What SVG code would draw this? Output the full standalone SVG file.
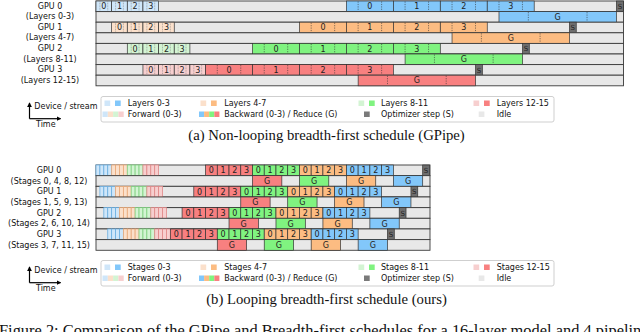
<svg xmlns="http://www.w3.org/2000/svg" width="640" height="332" viewBox="0 0 640 332">
<style>
.row{fill:#e8e8e8;stroke:#3a3a3a;stroke-width:0.9}
.blk{stroke:#333;stroke-width:0.7}
.c0{fill:#82c7fa}.c1{fill:#fcbc82}.c2{fill:#80f380}.c3{fill:#f88080}
.p0{fill:#cfe6f9}.p1{fill:#fbe0cb}.p2{fill:#d3f4d3}.p3{fill:#f7cfcf}
.q0{fill:#cfe6f9;stroke:#6aaee0;stroke-width:0.8}.q1{fill:#fbe0cb;stroke:#e8a878;stroke-width:0.8}.q2{fill:#d3f4d3;stroke:#7fd07f;stroke-width:0.8}.q3{fill:#f7cfcf;stroke:#e08888;stroke-width:0.8}
.sx{fill:#6e6e6e;stroke:#333;stroke-width:0.7}
.idle{fill:#e8e8e8}
.dl{stroke:#333;stroke-width:0.6;stroke-dasharray:1.2 1.2}
.fd{stroke:#777;stroke-width:0.6;stroke-dasharray:0.8 0.8}
.t{font-family:"DejaVu Sans","Liberation Sans",sans-serif;font-size:8px;fill:#222;text-anchor:middle}
.ts{font-family:"DejaVu Sans","Liberation Sans",sans-serif;font-size:7px;fill:#222;text-anchor:middle}
.lb{font-family:"DejaVu Sans","Liberation Sans",sans-serif;font-size:8px;fill:#111;text-anchor:middle}
.lg{font-family:"DejaVu Sans","Liberation Sans",sans-serif;font-size:8px;fill:#111}
.cap{font-family:"Liberation Serif","Times New Roman",serif;font-size:14.7px;fill:#111;text-anchor:middle}
.fig{font-family:"Liberation Serif","Times New Roman",serif;font-size:16.4px;fill:#111}
.ax{stroke:#000;stroke-width:1.2;fill:none}
</style>
<defs>
<marker id="ah" viewBox="0 0 6 6" refX="5" refY="3" markerWidth="4" markerHeight="4" orient="auto">
<path d="M0,0 L6,3 L0,6 z" fill="#000"/>
</marker>
<g id="fw16">
<rect class="q0" x="0" y="0" width="3.9125" height="10.66"/><rect class="q0" x="3.9125" y="0" width="3.9125" height="10.66"/><rect class="q0" x="7.825" y="0" width="3.9125" height="10.66"/><rect class="q0" x="11.7375" y="0" width="3.9125" height="10.66"/>
<rect class="q1" x="15.65" y="0" width="3.9125" height="10.66"/><rect class="q1" x="19.5625" y="0" width="3.9125" height="10.66"/><rect class="q1" x="23.475" y="0" width="3.9125" height="10.66"/><rect class="q1" x="27.3875" y="0" width="3.9125" height="10.66"/>
<rect class="q2" x="31.3" y="0" width="3.9125" height="10.66"/><rect class="q2" x="35.2125" y="0" width="3.9125" height="10.66"/><rect class="q2" x="39.125" y="0" width="3.9125" height="10.66"/><rect class="q2" x="43.0375" y="0" width="3.9125" height="10.66"/>
<rect class="q3" x="46.95" y="0" width="3.9125" height="10.66"/><rect class="q3" x="50.8625" y="0" width="3.9125" height="10.66"/><rect class="q3" x="54.775" y="0" width="3.9125" height="10.66"/><rect class="q3" x="58.6875" y="0" width="3.9125" height="10.66"/>
</g>
<g id="bw16">
<rect class="blk c3" x="0" y="0" width="11.7375" height="10.66"/><rect class="blk c3" x="11.7375" y="0" width="11.7375" height="10.66"/><rect class="blk c3" x="23.475" y="0" width="11.7375" height="10.66"/><rect class="blk c3" x="35.2125" y="0" width="11.7375" height="10.66"/>
<rect class="blk c2" x="46.95" y="0" width="11.7375" height="10.66"/><rect class="blk c2" x="58.6875" y="0" width="11.7375" height="10.66"/><rect class="blk c2" x="70.425" y="0" width="11.7375" height="10.66"/><rect class="blk c2" x="82.1625" y="0" width="11.7375" height="10.66"/>
<rect class="blk c1" x="93.9" y="0" width="11.7375" height="10.66"/><rect class="blk c1" x="105.6375" y="0" width="11.7375" height="10.66"/><rect class="blk c1" x="117.375" y="0" width="11.7375" height="10.66"/><rect class="blk c1" x="129.1125" y="0" width="11.7375" height="10.66"/>
<rect class="blk c0" x="140.85" y="0" width="11.7375" height="10.66"/><rect class="blk c0" x="152.5875" y="0" width="11.7375" height="10.66"/><rect class="blk c0" x="164.325" y="0" width="11.7375" height="10.66"/><rect class="blk c0" x="176.0625" y="0" width="11.7375" height="10.66"/>
<text class="t" x="5.87" y="8.3">0</text><text class="t" x="17.61" y="8.3">1</text><text class="t" x="29.34" y="8.3">2</text><text class="t" x="41.08" y="8.3">3</text>
<text class="t" x="52.82" y="8.3">0</text><text class="t" x="64.56" y="8.3">1</text><text class="t" x="76.29" y="8.3">2</text><text class="t" x="88.03" y="8.3">3</text>
<text class="t" x="99.77" y="8.3">0</text><text class="t" x="111.51" y="8.3">1</text><text class="t" x="123.24" y="8.3">2</text><text class="t" x="134.98" y="8.3">3</text>
<text class="t" x="146.72" y="8.3">0</text><text class="t" x="158.46" y="8.3">1</text><text class="t" x="170.19" y="8.3">2</text><text class="t" x="181.93" y="8.3">3</text>
<rect class="sx" x="217.14" y="0" width="6.8" height="10.66"/><text class="ts" x="220.54" y="8">S</text>
</g>
<g id="g4">
<rect class="blk c3" x="46.95" y="0" width="29.34" height="10.66"/><text class="t" x="61.62" y="8.3">G</text>
<rect class="blk c2" x="93.9" y="0" width="29.34" height="10.66"/><text class="t" x="108.57" y="8.3">G</text>
<rect class="blk c1" x="140.85" y="0" width="29.34" height="10.66"/><text class="t" x="155.52" y="8.3">G</text>
<rect class="blk c0" x="187.8" y="0" width="29.34" height="10.66"/><text class="t" x="202.47" y="8.3">G</text>
</g>
<g id="legendBase">
<rect x="101" y="96.5" width="453" height="25.5" rx="2" fill="#fff" stroke="#cfcfcf" stroke-width="1"/>
<rect class="p0" x="104.5" y="100.5" width="5.7" height="5.5"/><rect class="c0" x="115" y="100.5" width="5.7" height="5.5"/>
<rect class="p1" x="200.5" y="100.5" width="5.7" height="5.5"/><rect class="c1" x="211" y="100.5" width="5.7" height="5.5"/>
<rect class="p2" x="358.5" y="100.5" width="5.7" height="5.5"/><rect class="c2" x="369" y="100.5" width="5.7" height="5.5"/>
<rect class="p3" x="473.5" y="100.5" width="5.7" height="5.5"/><rect class="c3" x="484" y="100.5" width="5.7" height="5.5"/>
<rect class="p0" x="102.5" y="111.5" width="5.3" height="5.5"/><rect class="p1" x="107.8" y="111.5" width="5.3" height="5.5"/><rect class="p2" x="113.1" y="111.5" width="5.3" height="5.5"/><rect class="p3" x="118.4" y="111.5" width="5.3" height="5.5"/>
<rect class="c0" x="199" y="111.5" width="5.1" height="5.5"/><rect class="c1" x="204.1" y="111.5" width="5.1" height="5.5"/><rect class="c2" x="209.2" y="111.5" width="5.1" height="5.5"/><rect class="c3" x="214.3" y="111.5" width="5.1" height="5.5"/>
<rect fill="#7a7a7a" x="364" y="111.5" width="5.7" height="5.5"/>
<rect class="idle" x="478.7" y="111.5" width="5.7" height="5.5"/>
<text class="lg" x="127.7" y="117">Forward (0-3)</text>
<text class="lg" x="224.2" y="117">Backward (0-3) / Reduce (G)</text>
<text class="lg" x="381" y="117">Optimizer step (S)</text>
<text class="lg" x="496.7" y="117">Idle</text>
<text class="lg" x="34.3" y="109.2">Device / stream</text>
<text class="lg" x="36" y="126.6">Time</text>
</g>
</defs>

<!-- Panel (a) -->
<g id="a-gpu0">
<text class="lb" x="50" y="8.6">GPU 0</text><text class="lb" x="50" y="19.2">(Layers 0-3)</text>
<rect class="row" x="96" y="1" width="527.5" height="10.6"/>
<rect class="blk p0" x="96" y="1" width="15.65" height="10.6"/><rect class="blk p0" x="111.65" y="1" width="15.65" height="10.6"/><rect class="blk p0" x="127.3" y="1" width="15.65" height="10.6"/><rect class="blk p0" x="142.95" y="1" width="15.65" height="10.6"/>
<path class="fd" d="M99.91,1.5V11.1M107.74,1.5V11.1M115.56,1.5V11.1M123.39,1.5V11.1M131.21,1.5V11.1M139.04,1.5V11.1M146.86,1.5V11.1M154.69,1.5V11.1"/>
<text class="t" x="103.83" y="9.2">0</text><text class="t" x="119.48" y="9.2">1</text><text class="t" x="135.13" y="9.2">2</text><text class="t" x="150.78" y="9.2">3</text>
<rect class="blk c0" x="346.4" y="1" width="46.95" height="10.6"/><rect class="blk c0" x="393.35" y="1" width="46.95" height="10.6"/><rect class="blk c0" x="440.3" y="1" width="46.95" height="10.6"/><rect class="blk c0" x="487.25" y="1" width="46.95" height="10.6"/>
<path class="dl" d="M358.14,1.5V11.1M381.61,1.5V11.1M405.09,1.5V11.1M428.56,1.5V11.1M452.04,1.5V11.1M475.51,1.5V11.1M498.99,1.5V11.1M522.46,1.5V11.1"/>
<text class="t" x="369.88" y="9.2">0</text><text class="t" x="416.83" y="9.2">1</text><text class="t" x="463.78" y="9.2">2</text><text class="t" x="510.73" y="9.2">3</text>
<rect class="sx" x="616.4" y="1" width="7.1" height="10.6"/><text class="ts" x="619.95" y="8.9">S</text>
<rect class="row" x="96" y="11.6" width="527.5" height="10.6"/>
<rect class="blk c0" x="498.99" y="11.6" width="117.4" height="10.6"/>
<path class="dl" d="M528.34,12.1V21.7M587.04,12.1V21.7"/>
<text class="t" x="557.69" y="19.8">G</text>
</g>
<g id="a-gpu1">
<text class="lb" x="50" y="29.8">GPU 1</text><text class="lb" x="50" y="40.4">(Layers 4-7)</text>
<rect class="row" x="96" y="22.2" width="527.5" height="10.6"/>
<rect class="blk p1" x="111.65" y="22.2" width="15.65" height="10.6"/><rect class="blk p1" x="127.3" y="22.2" width="15.65" height="10.6"/><rect class="blk p1" x="142.95" y="22.2" width="15.65" height="10.6"/><rect class="blk p1" x="158.6" y="22.2" width="15.65" height="10.6"/>
<path class="fd" d="M115.56,22.7V32.3M123.39,22.7V32.3M131.21,22.7V32.3M139.04,22.7V32.3M146.86,22.7V32.3M154.69,22.7V32.3M162.51,22.7V32.3M170.34,22.7V32.3"/>
<text class="t" x="119.48" y="30.4">0</text><text class="t" x="135.13" y="30.4">1</text><text class="t" x="150.78" y="30.4">2</text><text class="t" x="166.43" y="30.4">3</text>
<rect class="blk c1" x="299.45" y="22.2" width="46.95" height="10.6"/><rect class="blk c1" x="346.4" y="22.2" width="46.95" height="10.6"/><rect class="blk c1" x="393.35" y="22.2" width="46.95" height="10.6"/><rect class="blk c1" x="440.3" y="22.2" width="46.95" height="10.6"/>
<path class="dl" d="M311.19,22.7V32.3M334.66,22.7V32.3M358.14,22.7V32.3M381.61,22.7V32.3M405.09,22.7V32.3M428.56,22.7V32.3M452.04,22.7V32.3M475.51,22.7V32.3"/>
<text class="t" x="322.93" y="30.4">0</text><text class="t" x="369.88" y="30.4">1</text><text class="t" x="416.83" y="30.4">2</text><text class="t" x="463.78" y="30.4">3</text>
<rect class="sx" x="569.44" y="22.2" width="6.8" height="10.6"/><text class="ts" x="572.84" y="30.1">S</text>
<rect class="row" x="96" y="32.8" width="527.5" height="10.6"/>
<rect class="blk c1" x="452.04" y="32.8" width="117.4" height="10.6"/>
<path class="dl" d="M481.39,33.3V42.9M540.09,33.3V42.9"/>
<text class="t" x="510.74" y="41">G</text>
</g>
<g id="a-gpu2">
<text class="lb" x="50" y="51">GPU 2</text><text class="lb" x="50" y="61.6">(Layers 8-11)</text>
<rect class="row" x="96" y="43.4" width="527.5" height="10.6"/>
<rect class="blk p2" x="127.3" y="43.4" width="15.65" height="10.6"/><rect class="blk p2" x="142.95" y="43.4" width="15.65" height="10.6"/><rect class="blk p2" x="158.6" y="43.4" width="15.65" height="10.6"/><rect class="blk p2" x="174.25" y="43.4" width="15.65" height="10.6"/>
<path class="fd" d="M131.21,43.9V53.5M139.04,43.9V53.5M146.86,43.9V53.5M154.69,43.9V53.5M162.51,43.9V53.5M170.34,43.9V53.5M178.16,43.9V53.5M185.99,43.9V53.5"/>
<text class="t" x="135.13" y="51.6">0</text><text class="t" x="150.78" y="51.6">1</text><text class="t" x="166.43" y="51.6">2</text><text class="t" x="182.08" y="51.6">3</text>
<rect class="blk c2" x="252.5" y="43.4" width="46.95" height="10.6"/><rect class="blk c2" x="299.45" y="43.4" width="46.95" height="10.6"/><rect class="blk c2" x="346.4" y="43.4" width="46.95" height="10.6"/><rect class="blk c2" x="393.35" y="43.4" width="46.95" height="10.6"/>
<path class="dl" d="M264.24,43.9V53.5M287.71,43.9V53.5M311.19,43.9V53.5M334.66,43.9V53.5M358.14,43.9V53.5M381.61,43.9V53.5M405.09,43.9V53.5M428.56,43.9V53.5"/>
<text class="t" x="275.98" y="51.6">0</text><text class="t" x="322.93" y="51.6">1</text><text class="t" x="369.88" y="51.6">2</text><text class="t" x="416.83" y="51.6">3</text>
<rect class="sx" x="522.49" y="43.4" width="6.8" height="10.6"/><text class="ts" x="525.89" y="51.3">S</text>
<rect class="row" x="96" y="54" width="527.5" height="10.6"/>
<rect class="blk c2" x="405.09" y="54" width="117.4" height="10.6"/>
<path class="dl" d="M434.44,54.5V64.1M493.14,54.5V64.1"/>
<text class="t" x="463.79" y="62.2">G</text>
</g>
<g id="a-gpu3">
<text class="lb" x="50" y="72.2">GPU 3</text><text class="lb" x="50" y="82.8">(Layers 12-15)</text>
<rect class="row" x="96" y="64.6" width="527.5" height="10.6"/>
<rect class="blk p3" x="142.95" y="64.6" width="15.65" height="10.6"/><rect class="blk p3" x="158.6" y="64.6" width="15.65" height="10.6"/><rect class="blk p3" x="174.25" y="64.6" width="15.65" height="10.6"/><rect class="blk p3" x="189.9" y="64.6" width="15.65" height="10.6"/>
<path class="fd" d="M146.86,65.1V74.7M154.69,65.1V74.7M162.51,65.1V74.7M170.34,65.1V74.7M178.16,65.1V74.7M185.99,65.1V74.7M193.81,65.1V74.7M201.64,65.1V74.7"/>
<text class="t" x="150.78" y="72.8">0</text><text class="t" x="166.43" y="72.8">1</text><text class="t" x="182.08" y="72.8">2</text><text class="t" x="197.73" y="72.8">3</text>
<rect class="blk c3" x="205.55" y="64.6" width="46.95" height="10.6"/><rect class="blk c3" x="252.5" y="64.6" width="46.95" height="10.6"/><rect class="blk c3" x="299.45" y="64.6" width="46.95" height="10.6"/><rect class="blk c3" x="346.4" y="64.6" width="46.95" height="10.6"/>
<path class="dl" d="M217.29,65.1V74.7M240.76,65.1V74.7M264.24,65.1V74.7M287.71,65.1V74.7M311.19,65.1V74.7M334.66,65.1V74.7M358.14,65.1V74.7M381.61,65.1V74.7"/>
<text class="t" x="229.03" y="72.8">0</text><text class="t" x="275.98" y="72.8">1</text><text class="t" x="322.93" y="72.8">2</text><text class="t" x="369.88" y="72.8">3</text>
<rect class="sx" x="475.54" y="64.6" width="6.8" height="10.6"/><text class="ts" x="478.94" y="72.5">S</text>
<rect class="row" x="96" y="75.2" width="527.5" height="10.6"/>
<rect class="blk c3" x="358.14" y="75.2" width="117.4" height="10.6"/>
<path class="dl" d="M387.49,75.7V85.3M446.19,75.7V85.3"/>
<text class="t" x="416.84" y="83.4">G</text>
</g>

<g id="a-legend">
<use href="#legendBase"/>
<text class="lg" x="127.7" y="106">Layers 0-3</text>
<text class="lg" x="224.2" y="106">Layers 4-7</text>
<text class="lg" x="381" y="106">Layers 8-11</text>
<text class="lg" x="496.7" y="106">Layers 12-15</text>
</g>
<g id="a-axes">
<path class="ax" d="M29.5,118.7V103" marker-end="url(#ah)"/>
<path class="ax" d="M29.5,118.7H60.5" marker-end="url(#ah)"/>
</g>
<text class="cap" x="326.5" y="140">(a) Non-looping breadth-first schedule (GPipe)</text>

<!-- Panel (b) -->
<g id="b-gpu0">
<text class="lb" x="49" y="172.9">GPU 0</text><text class="lb" x="49" y="183.6">(Stages 0, 4, 8, 12)</text>
<rect class="row" x="96" y="165" width="334" height="10.66"/>
<use href="#fw16" x="96" y="165"/>
<use href="#bw16" x="205.55" y="165"/>
<rect class="row" x="96" y="175.66" width="334" height="10.66"/>
<use href="#g4" x="205.55" y="175.66"/>
</g>
<g id="b-gpu1">
<text class="lb" x="49" y="194.2">GPU 1</text><text class="lb" x="49" y="204.9">(Stages 1, 5, 9, 13)</text>
<rect class="row" x="96" y="186.32" width="334" height="10.66"/>
<use href="#fw16" x="99.91" y="186.32"/>
<use href="#bw16" x="193.81" y="186.32"/>
<rect class="row" x="96" y="196.98" width="334" height="10.66"/>
<use href="#g4" x="193.81" y="196.98"/>
</g>
<g id="b-gpu2">
<text class="lb" x="49" y="215.6">GPU 2</text><text class="lb" x="49" y="226.2">(Stages 2, 6, 10, 14)</text>
<rect class="row" x="96" y="207.64" width="334" height="10.66"/>
<use href="#fw16" x="103.83" y="207.64"/>
<use href="#bw16" x="182.08" y="207.64"/>
<rect class="row" x="96" y="218.3" width="334" height="10.66"/>
<use href="#g4" x="182.08" y="218.3"/>
</g>
<g id="b-gpu3">
<text class="lb" x="49" y="236.9">GPU 3</text><text class="lb" x="49" y="247.5">(Stages 3, 7, 11, 15)</text>
<rect class="row" x="96" y="228.96" width="334" height="10.66"/>
<use href="#fw16" x="107.74" y="228.96"/>
<use href="#bw16" x="170.34" y="228.96"/>
<rect class="row" x="96" y="239.62" width="334" height="10.66"/>
<use href="#g4" x="170.34" y="239.62"/>
</g>

<g id="b-legend" transform="translate(0,164)">
<use href="#legendBase"/>
<text class="lg" x="127.7" y="106">Stages 0-3</text>
<text class="lg" x="224.2" y="106">Stages 4-7</text>
<text class="lg" x="381" y="106">Stages 8-11</text>
<text class="lg" x="496.7" y="106">Stages 12-15</text>
</g>
<g id="b-axes" transform="translate(0,164)">
<path class="ax" d="M29.5,118.7V103" marker-end="url(#ah)"/>
<path class="ax" d="M29.5,118.7H60.5" marker-end="url(#ah)"/>
</g>
<text class="cap" x="326.5" y="304">(b) Looping breadth-first schedule (ours)</text>
<text class="fig" x="-1" y="336">Figure 2: Comparison of the GPipe and Breadth-first schedules for a 16-layer model and 4 pipeline</text>
</svg>
